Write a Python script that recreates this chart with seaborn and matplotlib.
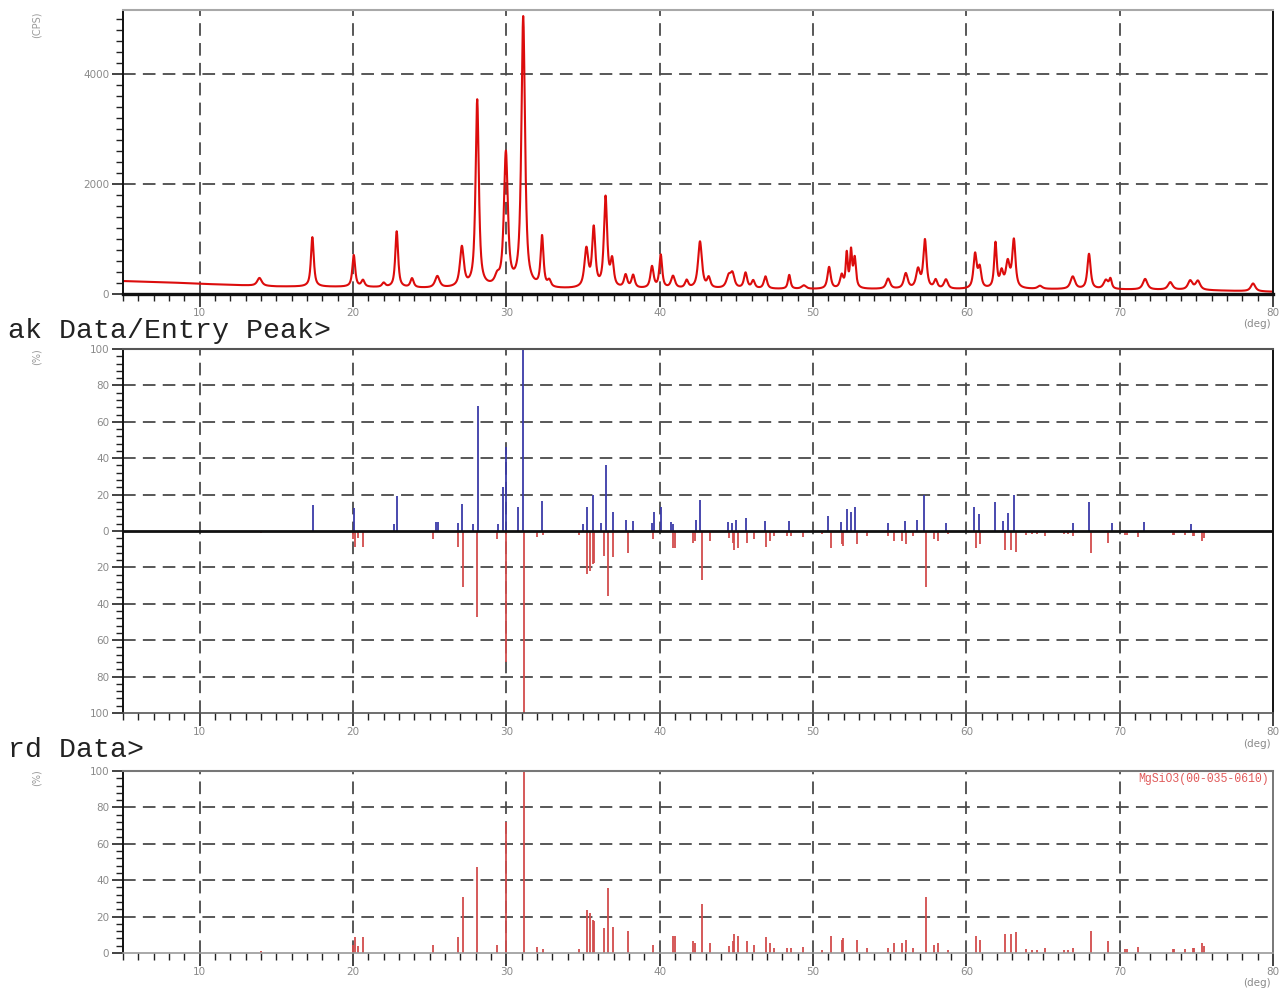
import numpy as np
import matplotlib
matplotlib.use("Agg")
import matplotlib.pyplot as plt
import seaborn as sns
from matplotlib.ticker import MultipleLocator, FuncFormatter

# ---------------- data ----------------
# background of the measured pattern (deg, cps)
bg_deg = [5, 8, 10, 15, 20, 25, 30, 33, 40, 45, 50, 55, 60, 65, 70, 75, 80]
bg_cps = [235, 210, 185, 135, 125, 100, 100, 85, 90, 90, 85, 85, 80, 85, 80, 70, 40]

# measured peaks: position (deg), top (cps), fwhm (deg)
peak_pos = [13.9, 17.35, 20.05, 20.65, 22.0, 22.85, 23.85, 25.5, 27.1, 28.1,
            29.4, 29.97, 31.1, 32.33, 32.8, 35.22, 35.7, 36.47, 36.9, 37.78,
            38.27, 39.5, 40.07, 40.87, 41.76, 42.63, 43.2, 44.5, 44.75, 45.6,
            46.1, 46.9, 48.45, 49.4, 51.05, 51.87, 52.2, 52.48, 52.72, 54.9,
            56.05, 56.85, 57.3, 58.0, 58.67, 60.57, 60.87, 61.9, 62.3, 62.7,
            63.1, 64.8, 66.94, 68.0, 69.1, 69.4, 71.66, 73.3, 74.6, 75.1, 78.7]
peak_top = [290, 1030, 700, 240, 190, 1130, 270, 310, 820, 3500,
            240, 2520, 5000, 1000, 200, 780, 1150, 1720, 560, 320,
            320, 480, 690, 310, 230, 940, 270, 300, 330, 370,
            230, 310, 340, 150, 480, 320, 700, 730, 620, 270,
            360, 420, 960, 235, 250, 700, 440, 900, 360, 540,
            950, 140, 310, 720, 240, 250, 270, 210, 235, 230, 190]
peak_fwhm = [0.35, 0.22, 0.22, 0.25, 0.25, 0.22, 0.25, 0.35, 0.3, 0.25,
             0.35, 0.3, 0.28, 0.22, 0.25, 0.3, 0.25, 0.25, 0.25, 0.25,
             0.25, 0.25, 0.22, 0.3, 0.25, 0.3, 0.25, 0.35, 0.3, 0.25,
             0.25, 0.25, 0.2, 0.35, 0.25, 0.25, 0.16, 0.16, 0.2, 0.3,
             0.3, 0.3, 0.25, 0.25, 0.3, 0.25, 0.25, 0.2, 0.25, 0.3,
             0.25, 0.35, 0.35, 0.25, 0.35, 0.2, 0.35, 0.35, 0.35, 0.35, 0.35]

# observed peak list (blue sticks, %)
obs_pos = [17.37, 20.07, 22.65, 22.85, 25.4, 25.55, 26.87, 27.13, 27.8, 28.13,
           29.45, 29.8, 29.98, 30.76, 31.1, 32.3, 34.98, 35.28, 35.63, 36.15,
           36.48, 36.94, 37.8, 38.28, 39.48, 39.65, 40.07, 40.72, 40.89, 42.4,
           42.63, 44.48, 44.7, 44.98, 45.6, 46.9, 48.44, 51.0, 51.8, 52.2,
           52.5, 52.77, 54.86, 56.02, 56.78, 57.24, 58.65, 60.5, 60.85, 61.9,
           62.37, 62.7, 63.1, 66.93, 68.0, 69.48, 71.6, 74.65]
obs_int = [14.1, 12.5, 4, 19.2, 5, 5, 4.5, 14.6, 4, 68.5,
           4, 24, 46, 13, 100, 16.5, 3.7, 13, 20, 4.4,
           36, 10.5, 6.2, 5.5, 4.4, 10.4, 13, 5, 4, 5.8,
           17.2, 5, 4.4, 5.8, 7, 5.5, 5.5, 8, 5, 12,
           10.4, 13, 4.4, 5.5, 6.2, 20, 4.4, 13, 9.5, 16,
           5.5, 10, 19.6, 4.4, 16, 4.4, 5, 4]

# reference card MgSiO3 00-035-0610 (red sticks, %)
ref_pos = [14.0, 20.0, 20.1, 20.3, 20.67, 25.24, 26.87, 27.2, 28.1, 29.4,
           30.0, 31.15, 31.98, 32.37, 34.76, 35.28, 35.46, 35.63, 35.74, 36.37,
           36.6, 36.98, 37.92, 39.59, 40.89, 41.0, 42.2, 42.3, 42.78, 43.28,
           44.54, 44.76, 44.87, 45.09, 45.67, 46.15, 46.93, 47.2, 47.48, 48.28,
           48.54, 49.32, 50.56, 51.17, 51.87, 51.98, 52.85, 53.5, 54.91, 55.3,
           55.78, 56.04, 56.54, 57.37, 57.91, 58.17, 58.8, 60.65, 60.86, 62.5,
           62.93, 63.26, 63.89, 64.3, 64.6, 65.15, 66.4, 66.6, 66.96, 68.1,
           69.25, 70.34, 70.5, 71.2, 73.45, 73.56, 74.27, 74.75, 74.88, 75.35,
           75.5]
ref_int = [1, 4.5, 9, 3.7, 8.8, 4.5, 8.8, 30.8, 47, 4.5,
           72, 100, 3.3, 2.4, 2.2, 23.4, 22, 18.3, 17.4, 13.7,
           35.7, 14.3, 11.9, 4.6, 9.2, 9.2, 6.4, 5.5, 27, 5.5,
           3.7, 6.4, 10.6, 9.2, 6.8, 4.6, 8.8, 5.5, 2.7, 2.7,
           2.7, 3.3, 1.5, 9.2, 7.3, 8.2, 7.3, 2.7, 2.7, 5.5,
           5.5, 7.3, 2.7, 30.7, 4.6, 5.5, 1.5, 9.1, 7.3, 10.4,
           10.4, 11.7, 2.2, 1.5, 1.5, 2.7, 1.5, 1.5, 2.7, 11.9,
           6.8, 2.4, 2.4, 3.3, 2.2, 2.2, 2.4, 2.7, 2.7, 5.5,
           4]

x_ticks = [10, 20, 30, 40, 50, 60, 70, 80]

# ---------------- styling ----------------
sns.set_theme(style="white")
plt.rcParams['font.family'] = ['DejaVu Sans']

W, H = 1288, 992
fig = plt.figure(figsize=(W / 100, H / 100), dpi=100)
left = 123 / W
width = 1150 / W
ax1 = fig.add_axes([left, 1 - 294 / H, width, 284 / H])
ax2 = fig.add_axes([left, 1 - 713 / H, width, 364 / H])
ax3 = fig.add_axes([left, 1 - 953 / H, width, 182 / H])

RED_LINE = '#dc0c0c'
BLUE = '#3a3aa8'
RED_STICK = '#d24c4c'
GRID = '#4a4a4a'
LABEL = '#8a8a8a'
DASH = (0, (7, 4))

# measured pattern built from the peak list (pseudo-Voigt peaks on background)
two_theta = np.arange(5, 80.0001, 0.01)
profile = np.interp(two_theta, bg_deg, bg_cps)
eta = 0.8
for p, top, w in zip(peak_pos, peak_top, peak_fwhm):
    h = top - np.interp(p, bg_deg, bg_cps)
    d = (two_theta - p) / (w / 2)
    profile = profile + h * (eta / (1 + d ** 2) + (1 - eta) * np.exp(-np.log(2) * d ** 2))

sns.lineplot(x=two_theta, y=profile, ax=ax1, color=RED_LINE, linewidth=1.5,
             estimator=None, sort=False)
ax1.set_ylim(0, 5160)

ax2.vlines(obs_pos, 0, obs_int, color=BLUE, linewidth=1.3)
ax2.vlines(ref_pos, 0, -np.array(ref_int), color=RED_STICK, linewidth=1.3)
ax2.axhline(0, color='#111111', linewidth=2.0, zorder=3)
ax2.set_ylim(-100, 100)

ax3.vlines(ref_pos, 0, ref_int, color=RED_STICK, linewidth=1.3)
ax3.set_ylim(0, 100)

for ax in (ax1, ax2, ax3):
    ax.set_xlim(5, 80)
    ax.set_xlabel('')
    ax.set_ylabel('')
    ax.grid(False)
    ax.xaxis.set_major_locator(MultipleLocator(10))
    ax.xaxis.set_minor_locator(MultipleLocator(1))
    ax.tick_params(axis='x', which='major', direction='out', length=9, width=1.2,
                   color='#222222', labelsize=7.5, labelcolor=LABEL, pad=1,
                   bottom=True)
    ax.tick_params(axis='x', which='minor', direction='out', length=5, width=1.0,
                   color='#222222', bottom=True)
    ax.tick_params(axis='y', which='major', direction='out', length=8, width=1.2,
                   color='#222222', labelsize=7.5, labelcolor=LABEL, pad=2,
                   left=True)
    ax.tick_params(axis='y', which='minor', direction='out', length=5, width=1.0,
                   color='#222222', left=True)
    for v in x_ticks[:-1]:
        ax.axvline(v, color=GRID, linewidth=1.3, linestyle=DASH, zorder=0.5)
    for s in ('left', 'right'):
        ax.spines[s].set_color('#111111')
        ax.spines[s].set_linewidth(1.4)
    ax.spines['top'].set_color('#a8a8a8')
    ax.spines['top'].set_linewidth(1.5)

# top panel
ax1.yaxis.set_major_locator(MultipleLocator(2000))
ax1.yaxis.set_minor_locator(MultipleLocator(200))
ax1.spines['bottom'].set_color('#111111')
ax1.spines['bottom'].set_linewidth(2.4)
for v in (2000, 4000):
    ax1.axhline(v, color=GRID, linewidth=1.3, linestyle=DASH, zorder=0.5)

# middle panel
ax2.yaxis.set_major_locator(MultipleLocator(20))
ax2.yaxis.set_minor_locator(MultipleLocator(4))
ax2.yaxis.set_major_formatter(FuncFormatter(lambda v, pos: f"{abs(int(round(v)))}"))
ax2.spines['bottom'].set_color('#555555')
ax2.spines['bottom'].set_linewidth(1.2)
ax2.spines['top'].set_color('#555555')
for v in (-80, -60, -40, -20, 20, 40, 60, 80):
    ax2.axhline(v, color=GRID, linewidth=1.3, linestyle=DASH, zorder=0.5)

# bottom panel
ax3.yaxis.set_major_locator(MultipleLocator(20))
ax3.yaxis.set_minor_locator(MultipleLocator(4))
ax3.spines['bottom'].set_color('#9a9a9a')
ax3.spines['bottom'].set_linewidth(1.2)
ax3.spines['right'].set_color('#777777')
ax3.spines['top'].set_color('#777777')
for v in (20, 40, 60, 80):
    ax3.axhline(v, color=GRID, linewidth=1.3, linestyle=DASH, zorder=0.5)
ax3.text(0.996, 0.955, 'MgSiO3(00-035-0610)', transform=ax3.transAxes,
         ha='right', va='center', fontsize=8.3, color='#e05a5a',
         family=['Liberation Mono', 'DejaVu Sans Mono'])

# unit labels
fig.text(37 / W, 1 - 25 / H, '(CPS)', rotation=90, ha='center', va='center',
         fontsize=7, color='#9a9a9a')
fig.text(37 / W, 1 - 357 / H, '(%)', rotation=90, ha='center', va='center',
         fontsize=7, color='#9a9a9a')
fig.text(37 / W, 1 - 778 / H, '(%)', rotation=90, ha='center', va='center',
         fontsize=7, color='#9a9a9a')
for yy in (324, 744, 983):
    fig.text(1257 / W, 1 - yy / H, '(deg)', ha='center', va='center',
             fontsize=7.5, color=LABEL)

# section headers (cut at the left edge as in the reference)
fig.text(8 / W, 1 - 338 / H, 'ak Data/Entry Peak>', ha='left', va='baseline',
         fontsize=20.3, color='#222222', family=['Liberation Mono', 'DejaVu Sans Mono'])
fig.text(8 / W, 1 - 757 / H, 'rd Data>', ha='left', va='baseline',
         fontsize=20.3, color='#222222', family=['Liberation Mono', 'DejaVu Sans Mono'])

fig.savefig('out.png', dpi=100, facecolor='white')
